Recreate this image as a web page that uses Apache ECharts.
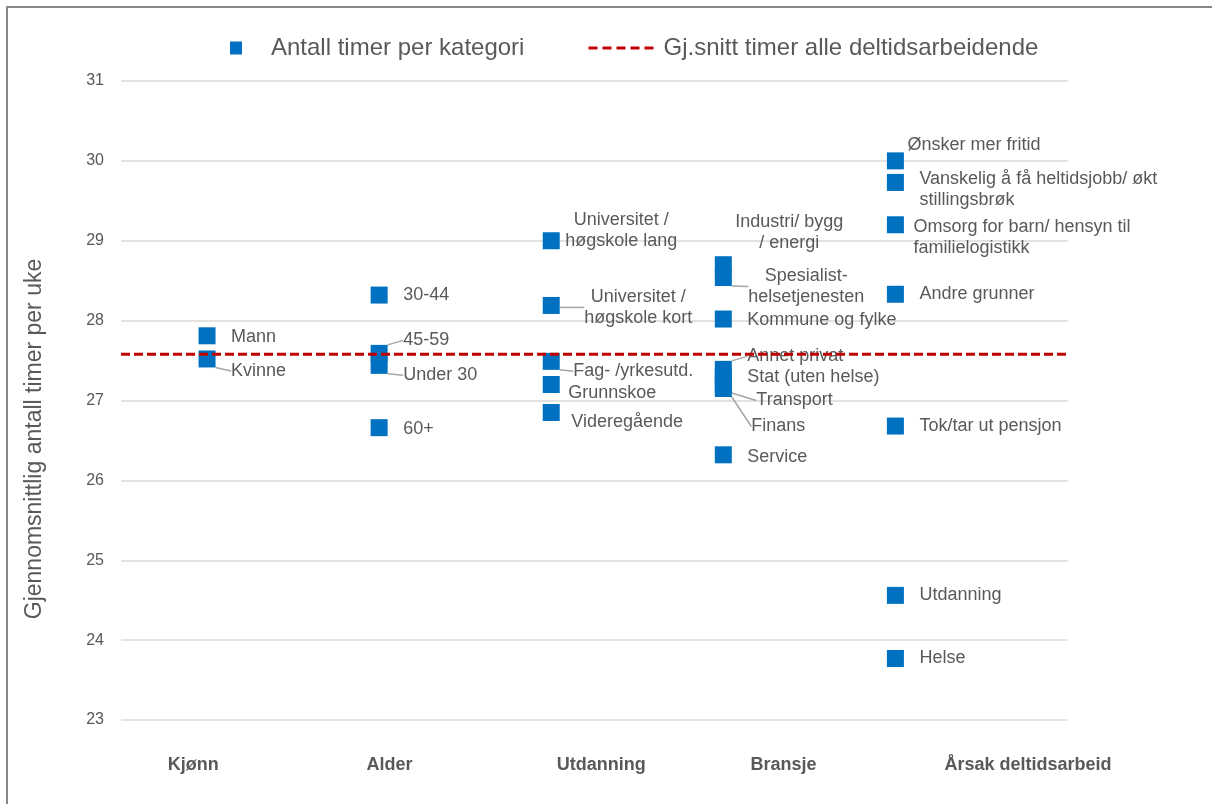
<!DOCTYPE html>
<html>
<head>
<meta charset="utf-8">
<script src="https://cdn.jsdelivr.net/npm/echarts@6/dist/echarts.min.js"></script>
<style>
html, body { margin: 0; padding: 0; background: #fff; }
#main { width: 1212px; height: 804px; }
</style>
</head>
<body>
<div id="main"></div>
<script type="text/javascript">
// grupper langs x-aksen
var groupNames = ['Kjønn', 'Alder', 'Utdanning', 'Bransje', 'Årsak deltidsarbeid'];
var groupLabelPos = [0.92, 2.06, 3.29, 4.35, 5.77];

var kjonnNames = ['Mann', 'Kvinne'];
var kjonnValues = [27.81, 27.52];

var alderNames = ['30-44', '45-59', 'Under 30', '60+'];
var alderValues = [28.32, 27.59, 27.44, 26.66];

var utdNames = ['Universitet /\nhøgskole lang', 'Universitet /\nhøgskole kort', 'Fag- /yrkesutd.', 'Grunnskoe', 'Videregående'];
var utdValues = [29.0, 28.19, 27.49, 27.20, 26.85];

var bransjeNames = ['Industri/ bygg\n/ energi', 'Spesialist-\nhelsetjenesten', 'Kommune og fylke', 'Annet privat', 'Stat (uten helse)', 'Transport', 'Finans', 'Service'];
var bransjeValues = [28.70, 28.54, 28.02, 27.39, 27.30, 27.20, 27.15, 26.32];

var arsakNames = ['Ønsker mer fritid', 'Vanskelig å få heltidsjobb/ økt\nstillingsbrøk', 'Omsorg for barn/ hensyn til\nfamilielogistikk', 'Andre grunner', 'Tok/tar ut pensjon', 'Utdanning', 'Helse'];
var arsakValues = [30.0, 29.73, 29.20, 28.33, 26.68, 24.56, 23.77];

var avgAll = 27.58;

// plassering av etiketter (dx, dy fra punktets sentrum, justering, ledelinje)
var labelLayout = {
	'Mann': [24, 1], 'Kvinne': [24, 12, 'left', true],
	'30-44': [24, 0], '45-59': [24, -13, 'left', true], 'Under 30': [24, 10, 'left', true], '60+': [24, 1],
	'Universitet /\nhøgskole lang': [70, -10, 'center'],
	'Universitet /\nhøgskole kort': [87, 2, 'center', true],
	'Fag- /yrkesutd.': [22, 10, 'left', true], 'Grunnskoe': [17, 9], 'Videregående': [20, 10],
	'Industri/ bygg\n/ energi': [66, -32, 'center'],
	'Spesialist-\nhelsetjenesten': [83, 9, 'center', true],
	'Kommune og fylke': [24, 1], 'Annet privat': [24, -13, 'left', true], 'Stat (uten helse)': [24, 0],
	'Transport': [33, 16, 'left', true], 'Finans': [28, 38, 'left', true], 'Service': [24, 2],
	'Ønsker mer fritid': [12, -16],
	'Vanskelig å få heltidsjobb/ økt\nstillingsbrøk': [24, 7],
	'Omsorg for barn/ hensyn til\nfamilielogistikk': [18, 13],
	'Andre grunner': [24, 0], 'Tok/tar ut pensjon': [24, 0], 'Utdanning': [24, 0], 'Helse': [24, 0]
};

var SYM = 17;
var textColor = '#595959';
var fontFam = '"Liberation Sans", Arial, sans-serif';

function buildPoints(x, names, values) {
	var out = [];
	for (var i = 0; i < names.length; i++) {
		var l = labelLayout[names[i]] || [24, 0];
		out.push({
			name: names[i],
			value: [x, values[i]],
			label: {
				position: [l[0] + SYM / 2, l[1] + SYM / 2],
				align: l[2] || 'left'
			},
			labelLine: { show: !!l[3] }
		});
	}
	return out;
}

var points = []
	.concat(buildPoints(1, kjonnNames, kjonnValues))
	.concat(buildPoints(2, alderNames, alderValues))
	.concat(buildPoints(3, utdNames, utdValues))
	.concat(buildPoints(4, bransjeNames, bransjeValues))
	.concat(buildPoints(5, arsakNames, arsakValues));

var myChart = echarts.init(document.getElementById('main'));
var option = {
	animation: false,
	textStyle: { fontFamily: fontFam },
	grid: { left: 121, right: 144.5, top: 81, bottom: 84 },
	legend: [
		{
			data: ['Antall timer per kategori'],
			left: 225, top: 31,
			itemWidth: 12, itemHeight: 13,
			textStyle: { fontSize: 24, color: textColor, fontFamily: fontFam, padding: [0, 0, 0, 24] }
		},
		{
			data: ['Gj.snitt timer alle deltidsarbeidende'],
			left: 582, top: 31,
			itemWidth: 70, itemHeight: 14,
			itemStyle: { opacity: 0, color: 'rgba(0,0,0,0)', borderWidth: 0 },
			lineStyle: { width: 3, type: [9, 5], color: '#c00000' },
			textStyle: { fontSize: 24, color: textColor, fontFamily: fontFam }
		}
	],
	xAxis: {
		type: 'value',
		min: 0.5, max: 6,
		axisLine: { show: false },
		axisTick: { show: false },
		splitLine: { show: false },
		axisLabel: {
			customValues: groupLabelPos,
			margin: 36,
			fontSize: 18,
			fontWeight: 'bold',
			color: textColor,
			fontFamily: fontFam,
			formatter: function (v) {
				for (var i = 0; i < groupLabelPos.length; i++) {
					if (Math.abs(groupLabelPos[i] - v) < 1e-6) return groupNames[i];
				}
				return '';
			}
		}
	},
	yAxis: {
		type: 'value',
		min: 23, max: 31, interval: 1,
		axisLine: { show: false },
		axisTick: { show: false },
		axisLabel: { fontSize: 16, color: textColor, margin: 17, fontFamily: fontFam },
		splitLine: { lineStyle: { color: '#d9d9d9', width: 1.5 } }
	},
	graphic: [
		{
			type: 'rect',
			shape: { x: 7, y: 7, width: 1300, height: 900 },
			style: { fill: 'none', stroke: '#888888', lineWidth: 2 },
			silent: true
		},
		{
			type: 'text',
			x: 35, y: 439,
			rotation: Math.PI / 2,
			style: {
				text: 'Gjennomsnittlig antall timer per uke',
				fontSize: 23,
				fill: textColor,
				fontFamily: fontFam,
				align: 'center',
				verticalAlign: 'middle'
			}
		}
	],
	series: [
		{
			name: 'Antall timer per kategori',
			type: 'scatter',
			symbol: 'rect',
			symbolSize: SYM,
			itemStyle: { color: '#0070c0', opacity: 1 },
			label: {
				show: true,
				formatter: '{b}',
				fontSize: 18,
				lineHeight: 21,
				color: textColor,
				opacity: 1,
				fontFamily: fontFam,
				verticalAlign: 'middle'
			},
			labelLine: { lineStyle: { color: '#a6a6a6', width: 1.5, opacity: 1 } },
			data: points,
			z: 3
		},
		{
			name: 'Gj.snitt timer alle deltidsarbeidende',
			type: 'line',
			symbol: 'none',
			lineStyle: { color: '#c00000', width: 3, type: [9, 4] },
			itemStyle: { color: '#c00000' },
			data: [[0.5, avgAll], [6, avgAll]],
			z: 4
		}
	]
};
myChart.setOption(option);
</script>
</body>
</html>
